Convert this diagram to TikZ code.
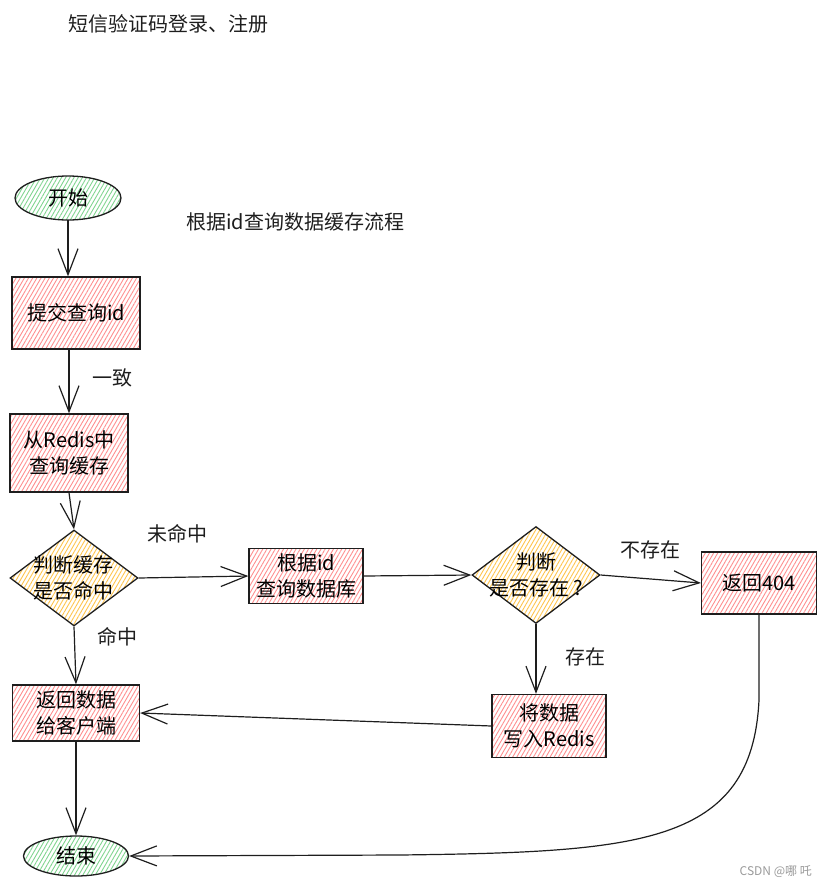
\documentclass[tikz,border=0pt]{standalone}
\usepackage{fontspec}
\usepackage{xcolor}
\usepackage{tikz}
\usetikzlibrary{positioning,arrows.meta,shapes.geometric,patterns.meta}
\newfontfamily\cjk{Noto Sans CJK SC}
\definecolor{flowink}{HTML}{1E1E1E}
\definecolor{hatchred}{HTML}{FF8F8F}
\definecolor{hatchgreen}{HTML}{80D48F}
\definecolor{hatchyellow}{HTML}{FFC44D}
\definecolor{markgray}{HTML}{9A9A9A}

\begin{document}
\begin{tikzpicture}[
  x=1pt,y=-1pt,
  font=\cjk\fontsize{20}{26}\selectfont,
  procbox/.style={draw=flowink,line width=1.3pt,align=center,inner sep=2pt,
                  pattern={Lines[angle=60,distance=3.6pt,line width=0.9pt]},pattern color=hatchred},
  terminal/.style={ellipse,draw=flowink,line width=1.3pt,align=center,inner sep=1pt,
                   pattern={Lines[angle=60,distance=3.6pt,line width=0.9pt]},pattern color=hatchgreen},
  decide/.style={diamond,draw=flowink,line width=1.3pt,align=center,inner sep=-12pt,
                 minimum width=128pt,minimum height=96pt,
                 pattern={Lines[angle=60,distance=3.6pt,line width=0.9pt]},pattern color=hatchyellow},
  note/.style={text=flowink,inner sep=0pt},
  arr/.style={-{Straight Barb[length=26pt,width=20pt]},flowink,line width=1.2pt}
]
\useasboundingbox (0,0) rectangle (826,889);

\node[note,anchor=west] (title) at (68,24) {短信验证码登录、注册};
\node[note,anchor=west] (subtitle) at (186,222) {根据id查询数据缓存流程};

\node[terminal,minimum width=106pt,minimum height=44pt] (start) at (68,198) {开始};
\node[procbox,minimum width=128pt,minimum height=72pt] (submit) at (76,313) {提交查询id};
\node[procbox,minimum width=118pt,minimum height=78pt] (redis) at (69,453) {从Redis中\\查询缓存};
\node[decide] (hit) at (74,578) {判断缓存\\是否命中};
\node[procbox,minimum width=114pt,minimum height=55pt] (querydb) at (306,576) {根据id\\查询数据库};
\node[decide,minimum height=97pt] (exist) at (536,575) {判断\\是否存在 ?};
\node[procbox,minimum width=115pt,minimum height=62pt] (r404) at (759,583) {返回404};
\node[procbox,minimum width=114pt,minimum height=63pt] (write) at (549,726) {将数据\\写入Redis};
\node[procbox,minimum width=127pt,minimum height=56pt] (ret) at (76,713) {返回数据\\给客户端};
\node[terminal,minimum width=105pt,minimum height=40pt] (end) at (76,856) {结束};

\node[note] (lsame) at (112,378) {一致};
\node[note] (lmiss) at (177,534) {未命中};
\node[note] (lhit) at (117,637) {命中};
\node[note] (lnone) at (650,550) {不存在};
\node[note] (lfound) at (585,657) {存在};
\node[note,anchor=east,text=markgray,font=\cjk\fontsize{12}{14}\selectfont] (mark) at (812,872) {CSDN @哪 吒};

\draw[arr] (start.south) -- (submit.north -| start.south);
\draw[arr] (submit.south -| redis.north) -- (redis.north);
\draw[arr] (redis.south) -- (hit.north);
\draw[arr] (hit.east) -- (querydb.west);
\draw[arr] (querydb.east) -- (exist.west);
\draw[arr] (exist.east) -- (r404.west);
\draw[arr] (exist.south) -- (write.north -| exist.south);
\draw[arr] (write.west) -- (ret.east);
\draw[arr] (hit.south) -- (ret.north);
\draw[arr] (ret.south) -- (end.north);
\draw[arr] (r404.south) -- (759,700) .. controls (752,845) and (640,852) .. (400,855) -- (end.east);
\end{tikzpicture}
\end{document}
